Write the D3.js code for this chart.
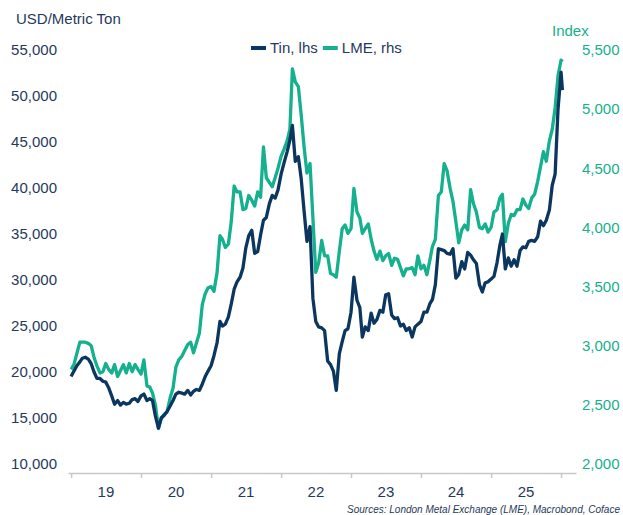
<!DOCTYPE html>
<html><head><meta charset="utf-8">
<script src="https://cdn.jsdelivr.net/npm/d3@7"></script>
<style>
html,body{margin:0;padding:0;background:#fff;}
svg{display:block;font-family:"Liberation Sans",Arial,sans-serif;}
</style></head>
<body><svg id="c" width="623" height="515"></svg>
<script>
// semimonthly observations from 2019-01-01 (1st and 16th of each month), last one 2026-01-08
const startYear = 2019;
const lastDate = "2026-01-08";
const tin = [
 19500,20100,20700,21100,21500,21600,21400,20900,20000,19300,19300,19000,18900,18300,17400,16500,16900,16400,16700,16500,16600,17000,17100,16800,
 17400,17600,16900,17100,16900,15200,13900,15000,15300,15700,16300,16900,17600,17800,17700,17600,18000,17500,17900,18100,18000,18700,19500,20100,
 20700,21800,23200,25500,25000,25200,26000,27400,29000,29800,30300,31300,33500,34800,35400,32900,33100,34900,36500,36800,38300,39200,38900,39800,
 41500,42700,43900,45200,46800,42900,43400,41000,37500,34200,35800,28000,25500,24900,24800,24500,21200,20800,20100,18000,22000,23300,24500,24700,
 26500,30300,27800,27000,23800,24900,24500,26400,25300,25700,26700,26500,28400,28500,26200,25800,25900,25000,25200,24500,24800,23800,24900,25200,
 25500,26500,26500,27400,27900,29500,33400,33300,33200,32900,32800,33400,30200,30600,32000,31200,33000,32700,32200,31800,29500,28700,29700,29800,
 30100,30400,31900,33800,35000,31200,32400,31500,32200,31500,33200,33600,33500,34200,34300,34200,34700,36400,35900,36500,37600,40300,41500,48500,
 52600,50650
];
const lme = [
 2800,2840,2940,3030,3030,3030,3020,3000,2900,2830,2770,2780,2850,2800,2770,2840,2740,2790,2840,2770,2850,2780,2840,2800,
 2760,2880,2660,2650,2600,2500,2300,2390,2420,2440,2560,2640,2820,2880,2910,2960,3010,3030,2940,3020,3110,3350,3440,3490,
 3500,3460,3620,3930,3900,3830,3860,4050,4350,4300,4300,4150,4160,4270,4230,4180,4300,4255,4680,4420,4380,4344,4420,4500,
 4600,4660,4730,4830,5340,5230,5190,4950,4680,4460,4540,4080,3620,3700,3890,3760,3760,3610,3600,3580,3800,3990,4020,3950,
 3990,4330,4130,4080,3950,3990,4030,3900,3800,3730,3800,3720,3760,3780,3680,3740,3730,3660,3590,3650,3650,3660,3600,3760,
 3650,3680,3600,3720,3840,3900,4270,4300,4540,4480,4330,4220,4050,3870,3980,4020,3980,4320,4200,4130,4000,3990,4030,3960,
 4000,4130,4150,4250,4280,3880,4035,4110,4100,4150,4150,4240,4190,4160,4250,4280,4390,4514,4640,4560,4730,4830,5010,5280,
 5415,5400
];
const yearLabels = ["19","20","21","22","23","24","25"];
const leftTicks = [10000,15000,20000,25000,30000,35000,40000,45000,50000,55000];
const rightTicks = [2000,2500,3000,3500,4000,4500,5000,5500];
const legendLabels = ["Tin, lhs","LME, rhs"];
const leftTitle = "USD/Metric Ton";
const rightTitle = "Index";
const sourceText = "Sources: London Metal Exchange (LME), Macrobond, Coface";

const C_TIN = "#0b3660", C_LME = "#15b08d", C_TXT = "#1f3a5c";
const FS = "15px";

const dates = tin.map((_, i) => {
  if (i === tin.length - 1) return new Date(lastDate + "T00:00:00");
  return new Date(startYear + Math.floor(i / 24), Math.floor((i % 24) / 2), (i % 2) ? 16 : 1);
});

const svg = d3.select("#c");
const x = d3.scaleTime().domain([new Date(2018, 11, 16), new Date(2026, 2, 20)]).range([68, 576]);
const yL = d3.scaleLinear().domain([10000, 55000]).range([464, 50]);
const yR = d3.scaleLinear().domain([2000, 5500]).range([464, 50]);
const fmt = d3.format(",");

// left axis labels
const gL = svg.append("g").attr("transform", "translate(57,0)")
  .call(d3.axisLeft(yL).tickValues(leftTicks).tickFormat(fmt).tickSize(0).tickPadding(0));
gL.select(".domain").remove();
gL.selectAll("text").attr("fill", C_TXT).style("font-size", FS).style("font-family", "Liberation Sans, Arial, sans-serif");

// right axis labels
const gR = svg.append("g").attr("transform", "translate(582,0)")
  .call(d3.axisRight(yR).tickValues(rightTicks).tickFormat(fmt).tickSize(0).tickPadding(0));
gR.select(".domain").remove();
gR.selectAll("text").attr("fill", C_LME).style("font-size", FS).style("font-family", "Liberation Sans, Arial, sans-serif");

// x axis
const yearStarts = d3.range(2019, 2027).map(y => new Date(y, 0, 1));
const gX = svg.append("g").attr("transform", "translate(0,473)")
  .call(d3.axisBottom(x).tickValues(yearStarts).tickFormat("").tickSize(5).tickSizeOuter(0));
gX.select(".domain").attr("stroke", "#c8c8c8").attr("stroke-width", 1.5);
gX.selectAll(".tick line").attr("stroke", "#c8c8c8").attr("stroke-width", 1.5);
svg.append("g").selectAll("text").data(yearLabels).join("text")
  .attr("x", (d, i) => x(new Date(2019 + i, 6, 2)))
  .attr("y", 497).attr("text-anchor", "middle")
  .attr("fill", C_TXT).style("font-size", FS).text(d => d);

// lines
const lineL = d3.line().x((d, i) => x(dates[i])).y(d => yL(d)).curve(d3.curveLinear);
const lineR = d3.line().x((d, i) => x(dates[i])).y(d => yR(d)).curve(d3.curveLinear);
svg.append("path").datum(lme).attr("d", lineR).attr("fill", "none")
  .attr("stroke", C_LME).attr("stroke-width", 3.3).attr("stroke-linejoin", "round");
svg.append("path").datum(tin).attr("d", lineL).attr("fill", "none")
  .attr("stroke", C_TIN).attr("stroke-width", 3.3).attr("stroke-linejoin", "round");

// titles
svg.append("text").attr("x", 16).attr("y", 24).attr("fill", C_TXT).style("font-size", FS).text(leftTitle);
svg.append("text").attr("x", 552).attr("y", 36).attr("fill", C_LME).style("font-size", FS).text(rightTitle);

// legend
const lg = svg.append("g");
const legColors = [C_TIN, C_LME];
let lx = 251;
legendLabels.forEach((t, i) => {
  lg.append("line").attr("x1", lx).attr("x2", lx + 15).attr("y1", 48).attr("y2", 48)
    .attr("stroke", legColors[i]).attr("stroke-width", 4);
  const tx = lg.append("text").attr("x", lx + 19).attr("y", 53).attr("fill", C_TXT)
    .style("font-size", FS).text(t);
  lx += 19 + tx.node().getComputedTextLength() + 5;
});

// source
svg.append("text").attr("x", 620).attr("y", 513).attr("text-anchor", "end")
  .attr("fill", C_TXT).style("font-size", "10px").style("font-style", "italic").text(sourceText);
</script></body></html>
